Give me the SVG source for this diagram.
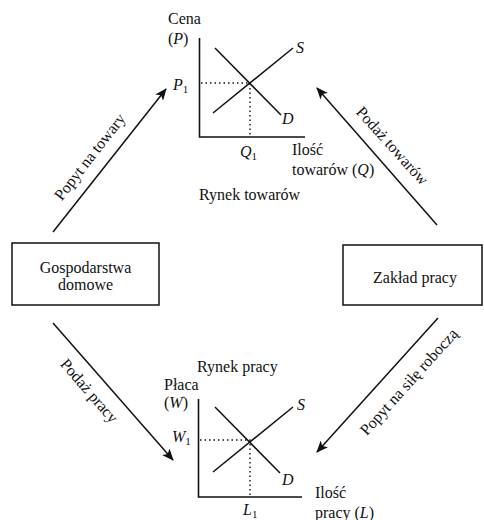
<svg xmlns="http://www.w3.org/2000/svg" width="484" height="520" viewBox="0 0 484 520" font-family="'Liberation Serif', serif">
  <defs>
    <marker id="arrow" viewBox="0 0 12 10" refX="11" refY="5" markerWidth="12" markerHeight="10" markerUnits="userSpaceOnUse" orient="auto">
      <path d="M0,0 L12,5 L0,10 L3,5 Z" fill="#111"/>
    </marker>
  </defs>
  <style>
    text { font-family: 'Liberation Serif', serif; font-size: 16px; fill: #111; }
    .it { font-style: italic; }
    .sub { font-size: 11px; font-style: normal; }
    .axis { stroke: #111; stroke-width: 1.6; fill: none; }
    .curve { stroke: #111; stroke-width: 1.5; fill: none; }
    .dot { stroke: #111; stroke-width: 1.4; stroke-dasharray: 1.5 3; fill: none; }
    .box { stroke: #111; stroke-width: 1.5; fill: #fff; }
    .flow { stroke: #111; stroke-width: 1.5; fill: none; marker-end: url(#arrow); }
  </style>
  <rect width="484" height="520" fill="#fff"/>

  <!-- goods market -->
  <g id="goods-market">
    <text x="168" y="24">Cena</text>
    <text x="168" y="44">(<tspan class="it">P</tspan>)</text>
    <text x="173" y="90" class="it">P<tspan class="sub" dy="3">1</tspan></text>
    <path class="axis" d="M199.5,38 V137 H305"/>
    <path class="dot" d="M201,83 H250 V136"/>
    <line class="curve" x1="215" y1="48" x2="281" y2="115"/>
    <line class="curve" x1="213" y1="113" x2="293" y2="48"/>
    <text x="296" y="53" class="it">S</text>
    <text x="282" y="124" class="it">D</text>
    <text x="240" y="157" class="it">Q<tspan class="sub" dy="3">1</tspan></text>
    <text x="292" y="155">Ilość</text>
    <text x="292" y="175">towarów (<tspan class="it">Q</tspan>)</text>
    <text x="199" y="200">Rynek towarów</text>
  </g>

  <!-- labour market -->
  <g id="labour-market">
    <text x="197" y="372">Rynek pracy</text>
    <text x="164" y="390">Płaca</text>
    <text x="164" y="408">(<tspan class="it">W</tspan>)</text>
    <text x="172" y="442" class="it">W<tspan class="sub" dy="3">1</tspan></text>
    <path class="axis" d="M198.5,399 V497 H302"/>
    <path class="dot" d="M200,440 H250 V496"/>
    <line class="curve" x1="215" y1="407" x2="280" y2="473"/>
    <line class="curve" x1="213" y1="472" x2="293" y2="407"/>
    <text x="297" y="410" class="it">S</text>
    <text x="282" y="485" class="it">D</text>
    <text x="243" y="515" class="it">L<tspan class="sub" dy="3">1</tspan></text>
    <text x="315" y="498">Ilość</text>
    <text x="315" y="518">pracy (<tspan class="it">L</tspan>)</text>
  </g>

  <!-- households -->
  <g id="households">
    <rect class="box" x="12" y="243" width="147" height="62"/>
    <text x="85.5" y="273" text-anchor="middle">Gospodarstwa</text>
    <text x="85.5" y="290" text-anchor="middle">domowe</text>
  </g>

  <!-- firms -->
  <g id="firms">
    <rect class="box" x="343" y="245" width="139" height="60"/>
    <text x="415" y="283" text-anchor="middle">Zakład pracy</text>
  </g>

  <!-- flows between sectors and markets -->
  <g id="connectors">
    <line class="flow" x1="53" y1="232" x2="166" y2="89"/>
    <line class="flow" x1="437" y1="225" x2="317" y2="88"/>
    <line class="flow" x1="53" y1="323" x2="173" y2="460"/>
    <line class="flow" x1="438" y1="318" x2="317" y2="452"/>
    <text transform="translate(90,157) rotate(-52)" x="0" y="5" text-anchor="middle">Popyt na towary</text>
    <text transform="translate(392,146) rotate(48)" x="0" y="5" text-anchor="middle">Podaż towarów</text>
    <text transform="translate(89,391) rotate(49)" x="0" y="5" text-anchor="middle">Podaż pracy</text>
    <text transform="translate(409,382) rotate(-48)" x="0" y="5" text-anchor="middle">Popyt na siłę roboczą</text>
  </g>
</svg>
